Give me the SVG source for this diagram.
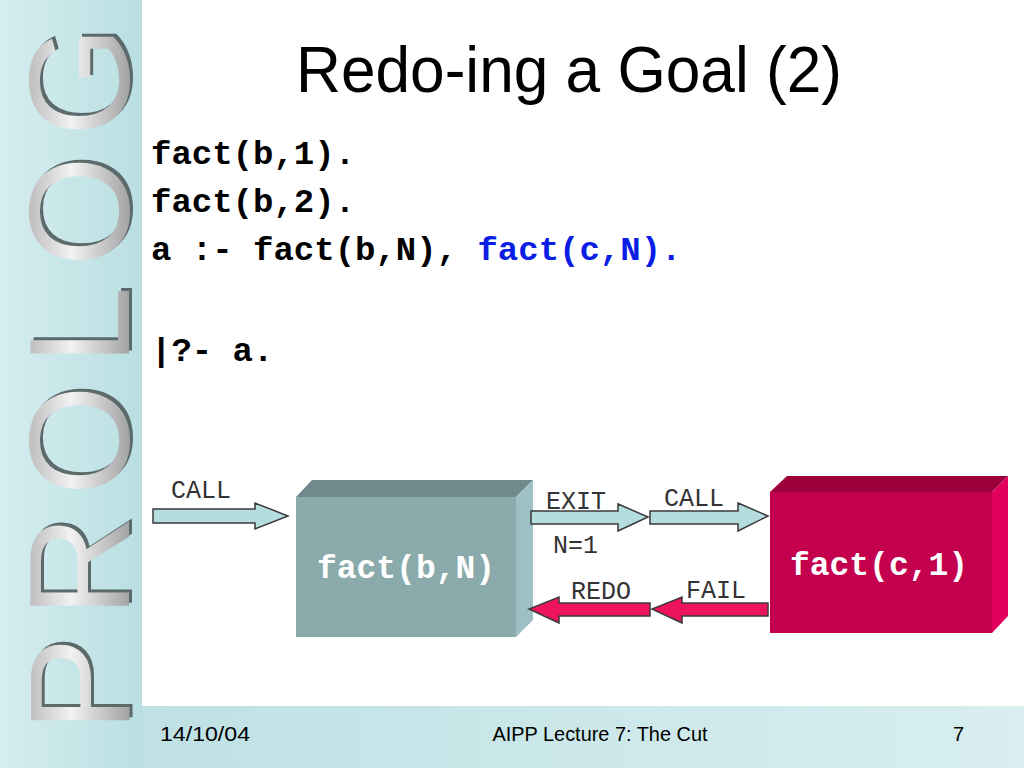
<svg xmlns="http://www.w3.org/2000/svg" width="1024" height="768" viewBox="0 0 1024 768">
<defs>
<linearGradient id="side" x1="0" y1="0" x2="1" y2="0">
<stop offset="0" stop-color="#d6edef"/>
<stop offset="1" stop-color="#b9dfe2"/>
</linearGradient>
<linearGradient id="band" x1="0" y1="0" x2="1" y2="0">
<stop offset="0" stop-color="#bfe1e4"/>
<stop offset="1" stop-color="#d8eef0"/>
</linearGradient>
<linearGradient id="letter" gradientUnits="userSpaceOnUse" x1="0" y1="-105" x2="0" y2="0">
<stop offset="0" stop-color="#b8b8b8"/>
<stop offset="0.45" stop-color="#f2f2f2"/>
<stop offset="1" stop-color="#a4a4a4"/>
</linearGradient>
<style>
.code{font-family:"Liberation Mono","Courier New",monospace;font-weight:bold;font-size:34px;fill:#000}
.lbl{font-family:"Liberation Mono","Courier New",monospace;font-size:25px;fill:#333}
.box{font-family:"Liberation Mono","Courier New",monospace;font-weight:bold;font-size:33px;fill:#fff}
.foot{font-family:"Liberation Sans",Arial,sans-serif;font-size:20px;fill:#000}
.arrL{fill:#b5dde0;stroke:#3a3a3a;stroke-width:1.5}
.arrR{fill:#ee145c;stroke:#3a3a3a;stroke-width:1.5}
.prolog{font-family:"Liberation Sans",Arial,sans-serif;font-size:142px}
</style>
</defs>
<rect x="0" y="0" width="1024" height="768" fill="#ffffff"/>
<rect x="0" y="0" width="142" height="768" fill="url(#side)"/>
<rect x="142" y="706" width="882" height="62" fill="url(#band)"/>
<g id="prolog-logo">
<text class="prolog" transform="translate(132,729) rotate(-90)" fill="#5c6a6c" textLength="706" lengthAdjust="spacing">PROLOG</text>
<text class="prolog" transform="translate(129,732) rotate(-90)" fill="url(#letter)" textLength="706" lengthAdjust="spacing">PROLOG</text>
</g>
<g id="title">
<text x="569" y="92" text-anchor="middle" font-family="Liberation Sans, Arial, sans-serif" font-size="64" fill="#000" textLength="546" lengthAdjust="spacingAndGlyphs">Redo-ing a Goal (2)</text>
</g>
<g id="code">
<text class="code" x="151" y="164">fact(b,1).</text>
<text class="code" x="151" y="212">fact(b,2).</text>
<text class="code" x="151" y="260">a :- fact(b,N), <tspan fill="#0a1ee6">fact(c,N).</tspan></text>
<text class="code" x="151" y="361">|?- a.</text>
</g>
<g id="node-factbN">
<polygon points="296,497 312,480 533,480 516,497" fill="#6f8a8d"/>
<polygon points="516,497 533,480 533,620 516,637" fill="#9cc0c3"/>
<rect x="296" y="497" width="220" height="140" fill="#8baaac"/>
<text class="box" x="406" y="578" text-anchor="middle">fact(b,N)</text>
</g>
<g id="node-factc1">
<polygon points="770,492 787,476 1008,476 992,492" fill="#9c003a"/>
<polygon points="992,492 1008,476 1008,616 992,633" fill="#e2005c"/>
<rect x="770" y="492" width="222" height="141" fill="#c4004e"/>
<text class="box" x="879" y="575" text-anchor="middle">fact(c,1)</text>
</g>
<g id="connectors">
<polygon class="arrL" points="153,509 255,509 255,503 288,516 255,529 255,523 153,523"/>
<polygon class="arrL" points="531,511 618,511 618,504 648,517 618,531 618,524 531,524"/>
<polygon class="arrL" points="650,511 738,511 738,503 768,516 738,531 738,524 650,524"/>
<polygon class="arrR" points="650,603 559,603 559,597 529,609 559,623 559,616 650,616"/>
<polygon class="arrR" points="768,603 682,603 682,597 652,609 682,623 682,616 768,616"/>
<text class="lbl" x="171" y="498">CALL</text>
<text class="lbl" x="546" y="509">EXIT</text>
<text class="lbl" x="664" y="506">CALL</text>
<text class="lbl" x="553" y="553">N=1</text>
<text class="lbl" x="571" y="599">REDO</text>
<text class="lbl" x="686" y="598">FAIL</text>
</g>
<g id="footer">
<text class="foot" x="160" y="741" textLength="90" lengthAdjust="spacingAndGlyphs">14/10/04</text>
<text class="foot" x="600" y="741" text-anchor="middle" textLength="215" lengthAdjust="spacingAndGlyphs">AIPP Lecture 7: The Cut</text>
<text class="foot" x="953" y="741">7</text>
</g>
</svg>
